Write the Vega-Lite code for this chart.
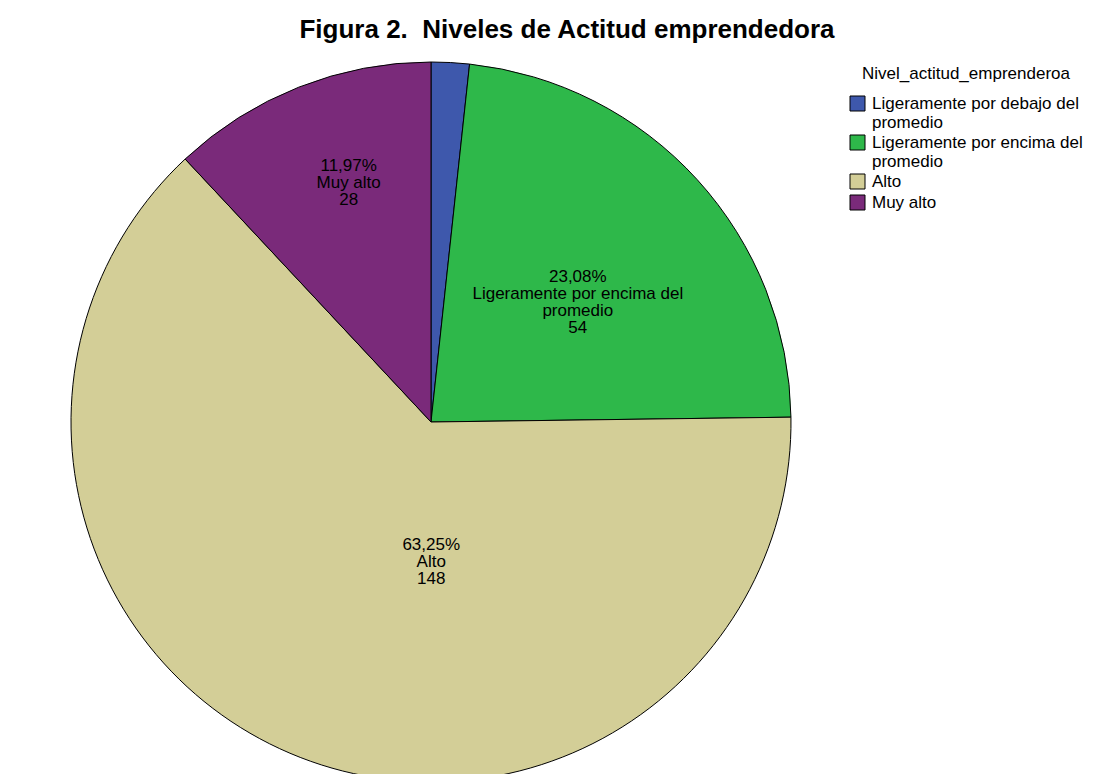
{
  "$schema": "https://vega.github.io/schema/vega-lite/v6.json",
  "width": 862,
  "height": 704,
  "autosize": {"type": "none"},
  "padding": {"left": 0, "top": 70, "right": 252, "bottom": 0},
  "background": "white",
  "title": {
    "text": "Figura 2. \u00a0Niveles de Actitud emprendedora",
    "font": "Liberation Sans",
    "fontSize": 26,
    "fontWeight": "bold",
    "color": "black",
    "anchor": "middle",
    "frame": "group",
    "dx": 136,
    "offset": -4,
    "baseline": "alphabetic"
  },
  "config": {"view": {"stroke": null}, "font": "Liberation Sans"},
  "data": {
    "values": [
      {"cat": "Ligeramente por debajo del promedio", "wrap": "Ligeramente por debajo del|promedio", "n": 4, "ord": 1},
      {"cat": "Ligeramente por encima del promedio", "wrap": "Ligeramente por encima del|promedio", "n": 54, "ord": 2},
      {"cat": "Alto", "wrap": "Alto", "n": 148, "ord": 3},
      {"cat": "Muy alto", "wrap": "Muy alto", "n": 28, "ord": 4}
    ]
  },
  "transform": [
    {"joinaggregate": [{"op": "sum", "field": "n", "as": "total"}]},
    {"calculate": "replace(format(datum.n / datum.total * 100, '.2f'), '.', ',') + '%'", "as": "pct"},
    {"calculate": "split(datum.pct + '|' + datum.wrap + '|' + datum.n, '|')", "as": "lab"}
  ],
  "encoding": {
    "theta": {"field": "n", "type": "quantitative", "stack": true},
    "order": {"field": "ord", "type": "quantitative"}
  },
  "layer": [
    {
      "mark": {"type": "arc", "outerRadius": 360, "stroke": "black", "strokeWidth": 1},
      "encoding": {
        "color": {
          "field": "cat",
          "type": "nominal",
          "scale": {
            "domain": ["Ligeramente por debajo del promedio", "Ligeramente por encima del promedio", "Alto", "Muy alto"],
            "range": ["#3E58AC", "#2EB84A", "#D3CE97", "#7A2A7A"]
          },
          "legend": {
            "orient": "none",
            "legendX": 849,
            "legendY": -4,
            "title": "Nivel_actitud_emprenderoa",
            "titleFont": "Liberation Sans",
            "titleFontSize": 17,
            "titleFontWeight": "normal",
            "titleColor": "black",
            "titleAnchor": "middle",
            "titleLimit": 300,
            "titlePadding": 12,
            "labelFont": "Liberation Sans",
            "labelFontSize": 17,
            "labelColor": "black",
            "labelLimit": 300,
            "labelOffset": 6,
            "labelExpr": "split(replace(datum.label, ' promedio', '|promedio'), '|')",
            "symbolType": "square",
            "symbolSize": 225,
            "symbolStrokeColor": "black",
            "symbolStrokeWidth": 1,
            "rowPadding": 2,
            "padding": 0
          }
        }
      }
    },
    {
      "mark": {"type": "text", "radius": 257, "dx": 12, "dy": -17, "fontSize": 17, "lineHeight": 17, "baseline": "middle", "color": "black"},
      "encoding": {"text": {"condition": {"test": "datum.cat === 'Muy alto'", "field": "lab"}, "value": ""}}
    },
    {
      "mark": {"type": "text", "radius": 185, "dx": 10, "dy": -20, "fontSize": 17, "lineHeight": 17, "baseline": "middle", "color": "black"},
      "encoding": {"text": {"condition": {"test": "datum.cat === 'Ligeramente por encima del promedio'", "field": "lab"}, "value": ""}}
    },
    {
      "mark": {"type": "text", "radius": 150, "dx": 59, "dy": -15, "fontSize": 17, "lineHeight": 17, "baseline": "middle", "color": "black"},
      "encoding": {"text": {"condition": {"test": "datum.cat === 'Alto'", "field": "lab"}, "value": ""}}
    }
  ]
}
